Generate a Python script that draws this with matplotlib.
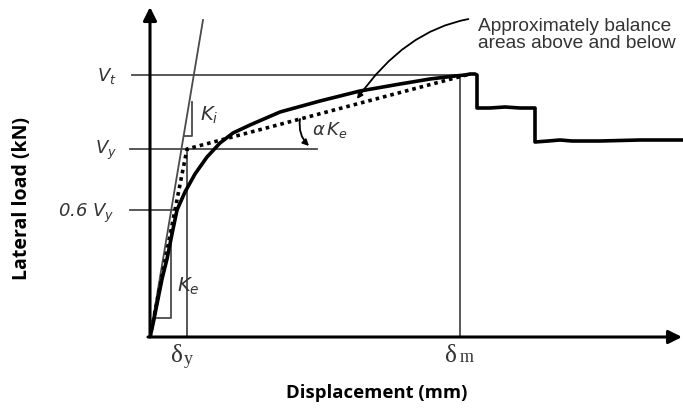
import matplotlib.pyplot as plt

# pushover curve (displacement, lateral load), arbitrary units
disp = [0, 3, 8, 12, 17, 22, 27, 35, 45, 57, 70, 83, 100, 130, 170, 210, 250, 280,
        305, 315, 320, 325, 327, 327, 340, 355, 370, 385, 385, 398, 410, 422, 450, 490, 533]
load = [0, 13, 38, 58, 78, 103, 127, 145, 163, 180, 194, 204, 212, 225, 236, 246, 253, 258,
        261, 262, 263, 263, 262, 229, 229, 230, 229, 229, 195, 196, 197, 196, 196, 197, 197]

# idealised bilinear curve
bi_disp = [0, 37, 320]
bi_load = [0, 188, 263]

# initial stiffness line K_i
ki_disp = [0, 53]
ki_load = [0, 317]

V_t = 262
V_y = 188
V_06 = 127
d_y = 37
d_m = 310

fig = plt.figure(figsize=(6.83, 4.10), dpi=100)
ax = fig.add_axes([150 / 683, 72 / 410, 533 / 683, 330 / 410])
ax.set_xlim(0, 533)
ax.set_ylim(0, 330)
ax.axis("off")

grey = "#4a4a4a"

# axes with arrow heads
ax.annotate("", xy=(0, 330), xytext=(0, 0), annotation_clip=False,
            arrowprops=dict(arrowstyle="-|>", lw=2.2, color="black", mutation_scale=20,
                            shrinkA=0, shrinkB=0))
ax.annotate("", xy=(532, 0), xytext=(-2, 0), annotation_clip=False,
            arrowprops=dict(arrowstyle="-|>", lw=2.2, color="black", mutation_scale=20,
                            shrinkA=0, shrinkB=0))

# reference lines
ax.plot([-18, 320], [V_t, V_t], color=grey, lw=1.3, clip_on=False)
ax.plot([-20, 167], [V_y, V_y], color=grey, lw=1.3, clip_on=False)
ax.plot([-20, 28], [V_06, V_06], color=grey, lw=1.3, clip_on=False)
ax.plot([d_y, d_y], [0, V_y], color=grey, lw=1.3)
ax.plot([d_m, d_m], [0, V_t], color=grey, lw=1.3)

# K_i line and triangles
ax.plot(ki_disp, ki_load, color=grey, lw=1.3, clip_on=False)
ax.plot([34, 42, 42], [201, 201, 235], color=grey, lw=1.3)
ax.plot([7, 21, 21], [19, 19, 107], color=grey, lw=1.3)

# curves
ax.plot(disp, load, color="black", lw=2.6, solid_joinstyle="round", zorder=5)
ax.plot(bi_disp, bi_load, color="black", lw=2.6, linestyle=(0, (1, 1.1)), zorder=6)

# left labels
lab = dict(fontsize=13, color="#333333", fontstyle="italic", ha="right", va="center")
ax.text(-33, V_t, r"$V_t$", **lab)
ax.text(-33, V_y, r"$V_y$", **lab)
ax.text(-36, V_06 - 2, r"0.6 $V_y$", **lab)

ax.text(27, 52, r"$K_e$", fontsize=14, color="#333333", va="center")
ax.text(50, 223, r"$K_i$", fontsize=14, color="#333333", va="center")
ax.text(162, 208, r"$\alpha\,K_e$", fontsize=13, color="#333333", va="center")

# delta labels under the axis
ax.text(d_y - 10, -18, "\u03b4", fontsize=18, family="Liberation Serif",
        color="#333333", ha="center", va="center", clip_on=False)
ax.text(d_y + 1, -22, "y", fontsize=13, family="Liberation Serif",
        color="#333333", ha="center", va="center", clip_on=False)
ax.text(d_m - 9, -18, "\u03b4", fontsize=18, family="Liberation Serif",
        color="#333333", ha="center", va="center", clip_on=False)
ax.text(d_m + 7, -20, "m", fontsize=13, family="Liberation Serif",
        color="#333333", ha="center", va="center", clip_on=False)

# alpha K_e arc arrow
ax.annotate("", xy=(159, 191), xytext=(150, 218),
            arrowprops=dict(arrowstyle="-|>", lw=1.3, color="black", mutation_scale=9,
                            connectionstyle="arc3,rad=0.25", shrinkA=0, shrinkB=0))

# note on balancing areas
ax.annotate("Approximately balance\nareas above and below", xy=(207, 238), xytext=(328, 303),
            fontsize=13.8, family="Liberation Sans", color="#333333", linespacing=1.05,
            ha="left", va="center", annotation_clip=False,
            arrowprops=dict(arrowstyle="-|>", lw=1.3, color="black", mutation_scale=8,
                            connectionstyle="arc3,rad=0.4", shrinkA=5, shrinkB=0))

fig.text(22 / 683, 1 - 199 / 410, "Lateral load (kN)", rotation=90, fontsize=14,
         fontweight="bold", family="Open Sans", ha="center", va="center")
fig.text(377 / 683, 1 - 393 / 410, "Displacement (mm)", fontsize=13.3,
         fontweight="bold", family="Open Sans", ha="center", va="center")

fig.savefig("out.png", dpi=100)
